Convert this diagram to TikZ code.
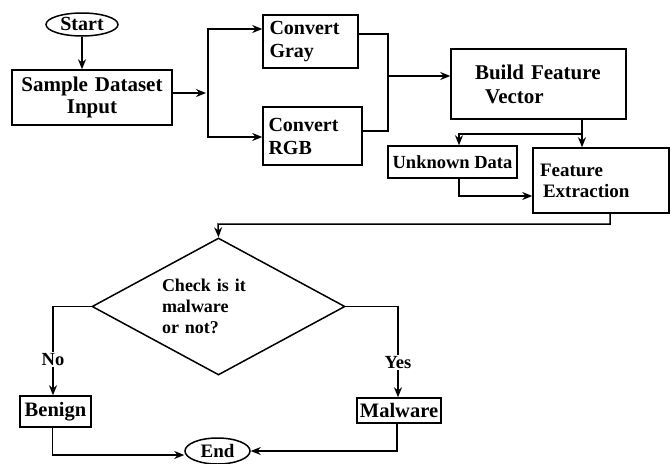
\documentclass[tikz,border=0pt]{standalone}
\usepackage{fontspec}
\setmainfont{Liberation Serif}
\usetikzlibrary{shapes.geometric,arrows.meta,positioning}
\tikzset{
  blk/.style={draw, line width=1.5pt, rectangle, inner sep=0pt,
    font=\bfseries\fontsize{20}{23}\selectfont},
  term/.style={draw, line width=1.5pt, ellipse, inner sep=0pt,
    text height=13pt, text depth=1pt, font=\bfseries\fontsize{20}{22}\selectfont},
  decide/.style={draw, line width=1.5pt, diamond, inner sep=0pt, align=left,
    font=\bfseries\fontsize{18}{21}\selectfont},
  wire/.style={line width=1.5pt},
  flow/.style={line width=1.5pt, -{Stealth[length=10pt,width=8pt]}},
  tag/.style={fill=white, inner sep=1.5pt, font=\bfseries\fontsize{18.5}{21}\selectfont},
}
\begin{document}
\begin{tikzpicture}[x=1pt,y=-1pt]
%
\useasboundingbox (0,0) rectangle (671,463);
%
\node[term, minimum width=72pt, minimum height=23pt] (start) at (82,24.5) {Start};
\node[blk, minimum width=160pt, minimum height=55pt, text width=152pt, align=center, font=\bfseries\fontsize{21}{22.5}\selectfont] (sample) at (92,97.5) {Sample Dataset\\Input};
\node[blk, minimum width=95pt, minimum height=53pt, text width=82pt, align=left] (gray) at (310.5,41.5) {Convert\\Gray};
\node[blk, minimum width=99pt, minimum height=58pt, text width=88pt, align=left] (rgb) at (312.5,136) {Convert\\RGB};
\node[blk, minimum width=175pt, minimum height=70pt, text width=127pt, align=left, font=\bfseries\fontsize{21}{24}\selectfont] (bfv) at (538.5,84) {Build Feature\\\hspace*{10pt}Vector};
\node[blk, minimum width=129pt, minimum height=32pt, font=\bfseries\fontsize{18.5}{22}\selectfont] (unknown) at (452.5,162) {Unknown Data};
\node[blk, minimum width=136pt, minimum height=65pt, text width=122pt, align=left, font=\bfseries\fontsize{19}{21}\selectfont] (feat) at (601,180.5) {Feature\\\hspace*{3pt}Extraction};
\node[decide, minimum width=253pt, minimum height=137pt, aspect=1.85, text width=113pt] (check) at (218.5,306.5) {Check is it\\malware\\or not?};
\node[blk, minimum width=71pt, minimum height=31pt, font=\bfseries\fontsize{20.5}{22}\selectfont] (benign) at (55.5,411.5) {Benign};
\node[blk, minimum width=84pt, minimum height=25pt, font=\bfseries\fontsize{20.5}{22}\selectfont] (malware) at (399,410.5) {Malware};
\node[term, minimum width=65pt, minimum height=26pt, font=\bfseries\fontsize{19}{22}\selectfont] (stop) at (217.5,451) {End};
%
\coordinate (fork) at (208,93);
\coordinate (join) at (388,76);
\coordinate (branch) at (582,134);
\coordinate (back) at (218,224);
%
\draw[flow] (start.south) -- (start.south |- sample.north);
\draw[flow] (sample.east |- fork) -- ([xshift=-2pt]fork);
\draw[wire] ([yshift=-12.5pt]fork |- gray.west) -- ([yshift=1pt]fork |- rgb.west);
\draw[flow] (fork) |- ([yshift=12.5pt]gray.west);
\draw[flow] (fork) |- ([yshift=-1pt]rgb.west);
\draw[wire] ([yshift=7.5pt]gray.east) -| (join) |- ([yshift=5pt]rgb.east);
\draw[flow] (join) -- (join -| bfv.west);
\draw[wire] (branch |- bfv.south) -- (branch);
\draw[flow] (branch) -- (branch |- feat.north);
\draw[flow] (branch) -| ([xshift=6.5pt]unknown.north);
\draw[flow] ([xshift=6.5pt]unknown.south) |- ([yshift=-15.5pt]feat.west);
\draw[flow] ([xshift=9pt]feat.south) |- (back) -- (check.north);
\draw[flow] (check.west) -| node[tag, pos=0.8] {No} ([xshift=-2.5pt]benign.north);
\draw[flow] (check.east) -| node[tag, pos=0.81] {Yes} ([xshift=-1pt]malware.north);
\draw[flow] ([xshift=-3pt]benign.south) |- ([yshift=-4pt]stop.west);
\draw[flow] ([xshift=-2pt]malware.south) |- (stop.east);
%
\end{tikzpicture}
\end{document}
